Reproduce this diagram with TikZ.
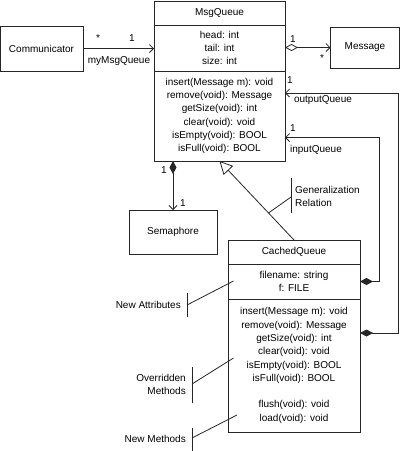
\documentclass[tikz,border=0pt]{standalone}
\usepackage{fontspec}
\setmainfont{Liberation Sans}
\usetikzlibrary{arrows.meta,calc}
\begin{document}
\begin{tikzpicture}[x=1pt,y=-1pt,
  font=\fontsize{10}{13.3}\selectfont,
  cls/.style={draw=black!85,line width=1pt,inner sep=0pt,outer sep=0pt,align=center},
  conn/.style={draw=black!85,line width=0.8pt},
  openhead/.style={conn,-{Straight Barb[length=4pt,width=8pt]}},
  aggr/.style={conn,{Diamond[open,length=13pt,width=7pt]}-{Straight Barb[length=4pt,width=8pt]}},
  compo/.style={conn,{Diamond[length=13pt,width=7pt]}-{Straight Barb[length=4pt,width=8pt]}},
  gen/.style={conn,-{Triangle[open,length=13pt,width=13pt]}},
  lbl/.style={inner sep=0pt},
  notebar/.style={draw=black!85,line width=0.8pt}
]
\useasboundingbox (0,0) rectangle (400,451);

% MsgQueue
\node[cls,minimum width=131pt,minimum height=24pt] (mqt) at (219.5,13) {MsgQueue};
\node[cls,minimum width=131pt,minimum height=46pt,anchor=north] (mqa) at (mqt.south) {head: int\\tail: int\\size: int};
\node[cls,minimum width=131pt,minimum height=90pt,anchor=north] (mqm) at (mqa.south)
 {insert(Message m): void\\remove(void): Message\\getSize(void): int\\clear(void): void\\isEmpty(void): BOOL\\isFull(void): BOOL};

% Other classes
\node[cls,minimum width=83pt,minimum height=45pt] (comm) at (41.5,48.5) {Communicator};
\node[cls,minimum width=69pt,minimum height=41pt] (msg) at (365,47.5) {Message};
\node[cls,minimum width=88pt,minimum height=44pt] (sem) at (173,232) {Semaphore};

% CachedQueue
\node[cls,minimum width=132pt,minimum height=24pt] (cqt) at (294,252) {CachedQueue};
\node[cls,minimum width=132pt,minimum height=35pt,anchor=north] (cqa) at (cqt.south) {filename: string\\f: FILE};
\node[cls,minimum width=132pt,minimum height=133pt,anchor=north] (cqm) at (cqa.south)
 {insert(Message m): void\\remove(void): Message\\getSize(void): int\\clear(void): void\\isEmpty(void): BOOL\\isFull(void): BOOL\\[13.3pt]flush(void): void\\load(void): void};

% Communicator -> MsgQueue
\draw[openhead] (comm.east) -- (comm.east -| mqa.west);
\node[lbl] (c1) at (98,38) {*};
\node[lbl] (c2) at (132,38) {1};
\node[lbl] (c3) at (119,61) {myMsgQueue};

% Aggregation MsgQueue -> Message
\draw[aggr] (msg.west -| mqa.east) -- (msg.west);
\node[lbl] (m1) at (293,39) {1};
\node[lbl] (m2) at (322,58) {*};

% Composition MsgQueue -> Semaphore
\draw[compo] (sem.north |- mqm.south) -- (sem.north);
\node[lbl] (s1) at (164,170) {1};
\node[lbl] (s2) at (183,203) {1};

% outputQueue
\coordinate (oq) at (398.5,93);
\draw[compo] ([yshift=-34pt]cqm.north east) -| (oq) -- (oq -| mqm.east);
\node[lbl] (o1) at (290,80) {1};
\node[lbl] (o2) at (323,100) {outputQueue};

% inputQueue
\coordinate (iq) at (379.5,137.5);
\draw[compo] (cqa.east) -| (iq) -- (iq -| mqm.east);
\node[lbl] (i1) at (293,128) {1};
\node[lbl] (i2) at (316,150) {inputQueue};

% Generalization
\draw[gen] (cqt.north) -- (mqm.south);
\coordinate (g1) at ($(mqm.south)!0.658!(cqt.north)$);
\coordinate (gb) at (291,197);
\draw[notebar] (291,178) -- (291,213);
\draw[conn] (g1) -- (gb);
\node[lbl,anchor=west,align=left] (gl) at (295,196.5) {Generalization\\Relation};

% New Attributes
\draw[notebar] (187,293) -- (187,317);
\coordinate (na) at (187,305);
\draw[conn] (na) -- (233.5,281);
\node[lbl,anchor=east] (nal) at (181,305) {New Attributes};

% Overridden Methods
\draw[notebar] (192,367) -- (192,403);
\coordinate (om) at (192,384);
\draw[conn] (om) -- (233.5,358);
\node[lbl,anchor=east,align=right] (oml) at (186,384.5) {Overridden\\Methods};

% New Methods
\draw[notebar] (192,428) -- (192,451);
\coordinate (nm) at (192,438);
\draw[conn] (nm) -- (237,415);
\node[lbl,anchor=east] (nml) at (186,439) {New Methods};
\end{tikzpicture}
\end{document}
